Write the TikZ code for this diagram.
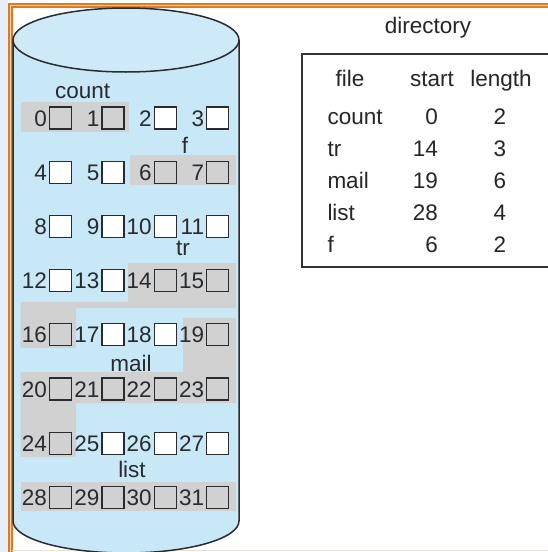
\documentclass[tikz,border=0pt]{standalone}
\usepackage{fontspec}
\setmainfont{Liberation Sans}
\definecolor{cylblue}{RGB}{200,231,247}
\definecolor{topblue}{RGB}{206,234,248}
\definecolor{usedgray}{RGB}{209,209,209}
\definecolor{inkc}{RGB}{40,43,47}
\definecolor{frameor}{RGB}{222,122,34}
\definecolor{framefill}{RGB}{246,214,176}
\definecolor{leftstrip}{RGB}{230,239,249}
\definecolor{beige}{RGB}{236,226,206}
\tikzset{
  sq/.style={draw=inkc, line width=1.2pt, minimum size=22pt, inner sep=0pt, shape=rectangle},
  num/.style={text=inkc, inner sep=0pt, font=\fontsize{22.5}{26}\selectfont},
  lbl/.style={text=inkc, inner sep=0pt, font=\fontsize{22.5}{26}\selectfont, anchor=base},
  tbl/.style={text=black!85, inner sep=0pt, font=\fontsize{22.5}{26}\selectfont},
  usedarea/.style={fill=usedgray, draw=none},
}
\newcommand\blk[2]{%
  \pgfmathtruncatemacro\rr{int(#1/4)}%
  \pgfmathtruncatemacro\cc{mod(#1,4)}%
  \node[sq,fill=#2] (b#1) at ({60.5+52.4*\cc},{118+54.2*\rr}) {};
  \node[num,anchor=base east] (n#1) at ([xshift=-1.8pt,yshift=-8pt]b#1.west) {#1};
}
\begin{document}
\begin{tikzpicture}[x=1pt,y=-1pt]
\useasboundingbox (0,0) rectangle (548,552);
\clip (0,0) rectangle (548,552);
% page background
\fill[white] (0,0) rectangle (548,552);
\fill[leftstrip] (0,0) rectangle (8,552);
% orange double frame
\fill[framefill] (9,4) rectangle (548,7);
\fill[framefill] (9,4) rectangle (12,552);
\fill[white] (12,7) rectangle (548,552);
\draw[frameor, line width=1.1pt] (548,4) -- (9,4) -- (9,552);
\draw[frameor, line width=1.1pt] (548,7) -- (12,7) -- (12,552);
\draw[beige, line width=1.5pt] (12,550.5) -- (548,550.5);
% cylinder body
\path[fill=cylblue] (13,40) -- (13,521) arc[start angle=180, end angle=0, x radius=113, y radius=32] -- (239,40) -- cycle;
\draw[inkc, line width=1.5pt] (13,40) -- (13,521) arc[start angle=180, end angle=0, x radius=113, y radius=32] -- (239,40);
\draw[inkc, line width=1.5pt, fill=topblue] (126,40) ellipse[x radius=113, y radius=32];
% allocated regions
\path[usedarea] (20.5,102) rectangle (129,132);
\path[usedarea] (130,155) rectangle (236,185);
\path[usedarea] (128,263) -- (236,263) -- (236,308) -- (76,308) -- (76,348) -- (20.5,348) -- (20.5,302) -- (128,302) -- cycle;
\path[usedarea] (183,318) -- (236,318) -- (236,403) -- (76,403) -- (76,457) -- (20.5,457) -- (20.5,372) -- (183,372) -- cycle;
\path[usedarea] (20.5,482) rectangle (236,511);
% file labels
\node[lbl] (lcount) at (82.7,98) {count};
\node[lbl] (lf) at (185,153) {f};
\node[lbl] (ltr) at (183,255.5) {tr};
\node[lbl] (lmail) at (131,371) {mail};
\node[lbl] (llist) at (132,477) {list};
% blocks
\foreach \i in {0,1,6,7,14,15,16,19,20,21,22,23,24,28,29,30,31} {\blk{\i}{none}}
\foreach \i in {2,3,4,5,8,9,10,11,12,13,17,18,25,26,27} {\blk{\i}{white}}
% directory
\node[tbl, anchor=base] (dir) at (428,33) {directory};
\draw[black!80, line width=1.5pt] (302,54) rectangle (560,267);
\node[tbl, anchor=base] (hfile) at (350,86) {file};
\node[tbl, anchor=base] (hstart) at (432,86) {start};
\node[tbl, anchor=base] (hlen) at (501,86) {length};
\foreach \f/\s/\l [count=\k from 0] in {count/0/2, tr/14/3, mail/19/6, list/28/4, f/6/2} {
  \node[tbl, anchor=base west] (f\k) at (327.3,{124+32*\k}) {\f};
  \node[tbl, anchor=base east] (s\k) at (438,{124+32*\k}) {\s};
  \node[tbl, anchor=base] (l\k) at (500,{124+32*\k}) {\l};
}
\end{tikzpicture}
\end{document}
